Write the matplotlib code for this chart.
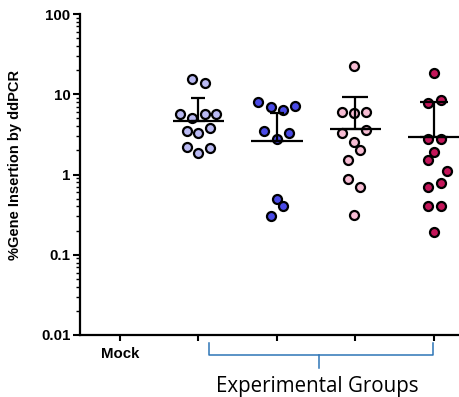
import numpy as np
import matplotlib.pyplot as plt
import matplotlib.transforms as mtransforms
from matplotlib.ticker import LogLocator, NullFormatter, FixedLocator

# -----------------------------
# Data (% gene insertion by ddPCR)
# -----------------------------

categories = ["Mock", "", "", "", ""]

group1 = [15.4, 13.7, 5.6, 5.0, 5.6, 5.6, 3.45, 3.26, 3.76, 2.18, 1.83, 2.11]
group2 = [7.9, 6.9, 6.3, 7.1, 3.45, 3.26, 2.74, 0.50, 0.40, 0.30]
group3 = [22.4, 5.96, 5.8, 5.96, 3.26, 3.55, 2.51, 2.0, 1.5, 0.89, 0.69, 0.31]
group4 = [18.3, 7.7, 8.4, 2.8, 2.74, 1.88, 1.5, 1.12, 0.79, 0.69, 0.40, 0.40, 0.19]

means = [4.6, 2.58, 3.65, 2.9]
upper = [8.9, 5.8, 9.2, 7.9]

colors = ["#b9b9f2", "#4b4be6", "#f6bcd3", "#c4165a"]

# horizontal scatter offsets (pixels), layout only
jitter_px = [
    [-6, 7, -18, -6, 7, 18, -11, 0, 12, -11, 0, 12],
    [-19, -6, 6, 18, -13, 12, 0, 0, 6, -6],
    [-1, -13, -1, 11, -13, 11, -1, 5, -7, -7, 5, -1],
    [0, -6, 7, -6, 7, 0, -6, 13, 7, -6, -6, 7, 0],
]
cap_pt = [4.7, 5.0, 9.7, 10.0]
px_per_unit = 78.5

groups = [group1, group2, group3, group4]

# -----------------------------
# Figure
# -----------------------------

fig = plt.figure(figsize=(4.59, 3.97), dpi=100)
ax = fig.add_axes([80 / 459, 62 / 397, 1 - 80 / 459, 321 / 397])

for i, (vals, col, jit) in enumerate(zip(groups, colors, jitter_px)):
    xc = i + 1
    xs = xc + np.array(jit) / px_per_unit
    ax.scatter(xs, vals, s=42, facecolor=col, edgecolor="black",
               linewidth=1.6, zorder=3)
    # mean line
    ax.plot([xc - 0.33, xc + 0.33], [means[i], means[i]], color="black",
            lw=1.6, zorder=4, solid_capstyle="butt")
    # upward error bar
    ax.errorbar([xc], [means[i]], yerr=[[0], [upper[i] - means[i]]],
                fmt="none", ecolor="black", elinewidth=1.6,
                capsize=cap_pt[i], capthick=1.6, zorder=4)

ax.set_yscale("log")
ax.set_ylim(0.01, 100)
ax.set_xlim(-0.51, 4.32)

ax.set_yticks([0.01, 0.1, 1, 10, 100])
ax.set_yticklabels(["0.01", "0.1", "1", "10", "100"])
ax.yaxis.set_minor_locator(LogLocator(base=10, subs=np.arange(2, 10)))
ax.yaxis.set_minor_formatter(NullFormatter())

ax.xaxis.set_major_locator(FixedLocator(range(5)))
ax.set_xticklabels(categories)

for lab in ax.get_yticklabels() + ax.get_xticklabels():
    lab.set_fontweight("bold")
    lab.set_fontsize(10.8)
    lab.set_family("Liberation Sans")

ax.tick_params(axis="y", which="major", length=5, width=1.5, pad=2)
ax.tick_params(axis="y", which="minor", length=3, width=1.0)
ax.tick_params(axis="x", which="major", length=4, width=1.5, pad=5)

for side in ["top", "right"]:
    ax.spines[side].set_visible(False)
for side in ["left", "bottom"]:
    ax.spines[side].set_linewidth(1.6)

ax.set_ylabel("%Gene Insertion by ddPCR", fontsize=10.5, fontweight="bold",
              family="Liberation Sans")
ax.yaxis.set_label_coords(-0.153, 0.53)

# -----------------------------
# Bracket + group label
# -----------------------------

trans = mtransforms.blended_transform_factory(ax.transData, ax.transAxes)
bx0, bx1, btip = 1.14, 3.99, 2.54
ax.plot([bx0, bx0, bx1, bx1], [-0.025, -0.062, -0.062, -0.025],
        color="#2e75b6", lw=1.1, transform=trans, clip_on=False)
ax.plot([btip, btip], [-0.062, -0.103], color="#2e75b6", lw=1.1,
        transform=trans, clip_on=False)
ax.text(btip - 0.03, -0.178, "Experimental Groups", transform=trans,
        ha="center", va="baseline", fontsize=14.8, family="Open Sans")

fig.savefig("out.png", dpi=100)
